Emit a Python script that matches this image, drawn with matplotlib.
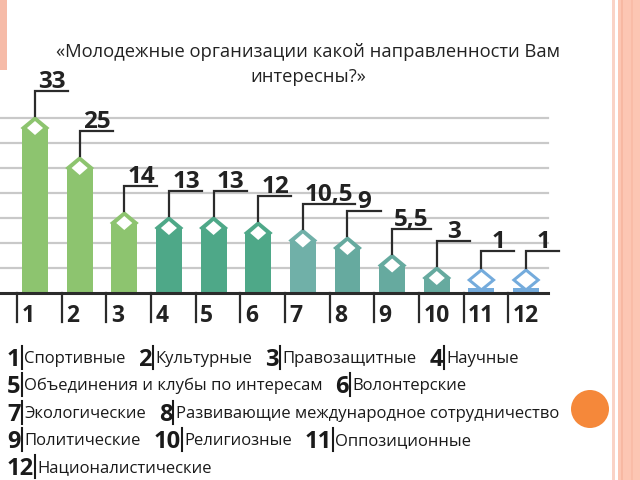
import matplotlib
matplotlib.use('Agg')
import matplotlib.pyplot as plt
from matplotlib.patches import Polygon, Rectangle, Circle
from matplotlib.transforms import IdentityTransform

plt.rcParams['font.family'] = ['Open Sans', 'DejaVu Sans']

# ---- data ----
categories = list(range(1, 13))
values = [33, 25, 14, 13, 13, 12, 10.5, 9, 5.5, 3, 1, 1]
value_labels = ['33', '25', '14', '13', '13', '12', '10,5', '9', '5,5', '3', '1', '1']
bar_colors = ['#8dc46f'] * 3 + ['#4ea888'] * 3 + ['#70b0a8'] + ['#66aa9f'] * 3 + ['#74abdc'] * 2
names = ['Спортивные', 'Культурные', 'Правозащитные', 'Научные',
         'Объединения и клубы по интересам', 'Волонтерские',
         'Экологические', 'Развивающие международное сотрудничество',
         'Политические', 'Религиозные', 'Оппозиционные', 'Националистические']
legend_rows = [[1, 2, 3, 4], [5, 6], [7, 8], [9, 10, 11], [12]]
title_lines = ['«Молодежные организации какой направленности Вам', 'интересны?»']

# ---- layout helpers (pixel -> data) ----
W, H = 640, 480
STEP = 44.64        # px between bar centres
UNIT = 5.0          # px per value unit
X0, Y0 = 35, 293    # pixel position of bar 1 centre / baseline


def px_x(px):
    return 1 + (px - X0) / STEP


def px_y(py):
    return (Y0 - py) / UNIT


fig = plt.figure(figsize=(6.4, 4.8), dpi=100)
fig.patch.set_facecolor('white')
ax = fig.add_axes([0, 0, 1, 1])
ax.set_xlim(px_x(0), px_x(W))
ax.set_ylim(px_y(H), px_y(0))
ax.axis('off')
r = fig.canvas.get_renderer()

# gridlines
for g in range(5, 40, 5):
    ax.plot([px_x(0), px_x(548)], [g, g], color='#c9c9c9', lw=1.6, zorder=1)

# bars
ax.bar(categories, values, width=0.58, color=bar_colors, zorder=2)

# diamonds + value brackets
dw, dh = 14.5 / STEP, 12 / UNIT
for i, v, lab, c in zip(categories, values, value_labels, bar_colors):
    yc = max(v, 2.6)
    ax.add_patch(Polygon([(i - dw, yc), (i, yc + dh), (i + dw, yc), (i, yc - dh)],
                         closed=True, color=c, zorder=3, lw=0))
    blue = c == '#74abdc'
    iw, ih = (0.22, 1.6) if blue else (0.18, 1.4)
    ax.add_patch(Polygon([(i - iw, yc), (i, yc + ih), (i + iw, yc), (i, yc - ih)],
                         closed=True, color='white', zorder=4, lw=0))
    ly = v + 7.4
    t = ax.text(0, ly + 0.6, lab, fontsize=17.5, fontweight='bold', color='#222222',
                ha='center', va='baseline', zorder=5)
    w = t.get_window_extent(renderer=r).width / STEP
    cx = i + max(17 / STEP, w / 2 + 2 / STEP)
    t.set_x(cx)
    end = max(i + 0.74, cx + w / 2 + 2 / STEP)
    ax.plot([i, i, end], [yc + dh, ly, ly], color='#2b2b2b', lw=1.6, zorder=5,
            solid_joinstyle='miter')

# baseline and category ticks
ax.plot([px_x(0), px_x(548)], [0, 0], color='#2b2b2b', lw=2.2, zorder=6)
for i in categories:
    ax.plot([i - 0.4, i - 0.4], [0, px_y(322)], color='#2b2b2b', lw=1.6, zorder=6)
    ax.text(i - 0.3, px_y(322), str(i), fontsize=16.5, fontweight='bold',
            color='#222222', ha='left', va='baseline')

# title (two centred lines)
for line, ty in zip(title_lines, [52, 77]):
    fig.text(308 / W, 1 - ty / H, line, fontsize=13.2, color='#222222',
             ha='center', va='center')

# legend rows beneath the chart
row_y = [357, 384, 412, 439, 466]
for row, yc in zip(legend_rows, row_y):
    x = 7
    for n in row:
        fy = 1 - yc / H
        t = fig.text(x / W, fy, str(n), fontsize=17, fontweight='bold',
                     color='#1a1a1a', ha='left', va='center_baseline')
        x += t.get_window_extent(renderer=r).width + 1
        fig.add_artist(plt.Line2D([x / W, x / W], [1 - (yc + 12) / H, 1 - (yc - 11) / H],
                                  color='#1a1a1a', lw=1.5))
        x += 2.5
        t = fig.text(x / W, fy, names[n - 1], fontsize=12, color='#1a1a1a',
                     ha='left', va='center_baseline')
        x += t.get_window_extent(renderer=r).width + 13

# slide decorations
fig.add_artist(Rectangle((612 / W, 0), 3 / W, 1, transform=fig.transFigure,
                         color='#fad3c6', lw=0))
fig.add_artist(Rectangle((618 / W, 0), 22 / W, 1, transform=fig.transFigure,
                         color='#fcc6b3', lw=0))
fig.add_artist(Rectangle((621 / W, 0), 2 / W, 1, transform=fig.transFigure,
                         color='#f7b8a2', lw=0))
fig.add_artist(Rectangle((631 / W, 0), 2 / W, 1, transform=fig.transFigure,
                         color='#f9bca7', lw=0))
fig.add_artist(Rectangle((0, 1 - 70 / H), 7 / W, 70 / H, transform=fig.transFigure,
                         color='#f6bba8', lw=0))
fig.add_artist(Circle((590, H - 409), 19, transform=IdentityTransform(),
                      color='#f5883a', lw=0))

fig.savefig('out.png', dpi=100)
